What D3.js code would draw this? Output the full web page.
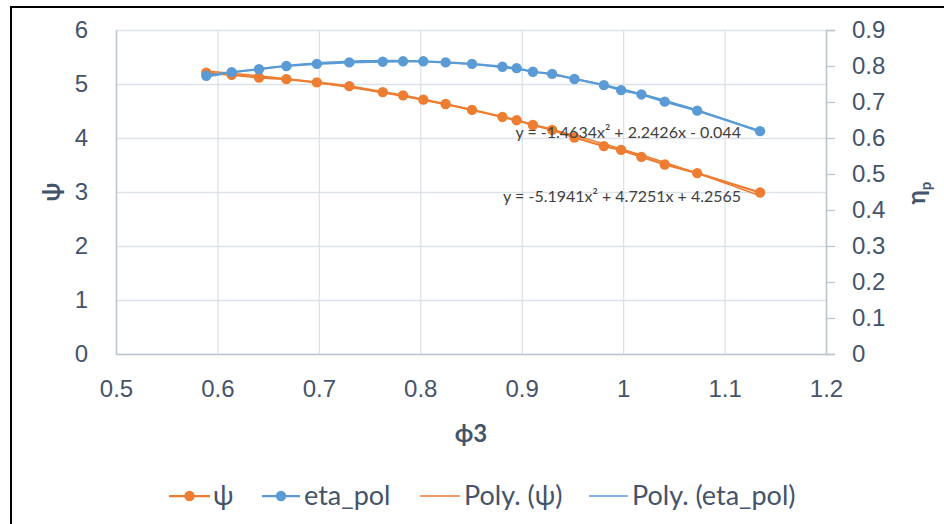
<!DOCTYPE html>
<html>
<head>
<meta charset="utf-8">
<script src="https://cdn.jsdelivr.net/npm/d3@7"></script>
<style>
  body { margin: 0; background: #fff; }
  svg { display: block; font-family: Lato, "Open Sans", sans-serif; }
  .tick text { fill: #44546a; font-size: 24px; }
</style>
</head>
<body>
<svg id="chart" width="944" height="524"></svg>
<script>
// phi3 values shared by both series
const phi = [0.589, 0.614, 0.641, 0.668, 0.698, 0.730, 0.763, 0.783, 0.803, 0.825, 0.851,
  0.881, 0.895, 0.911, 0.930, 0.952, 0.981, 0.998, 1.018, 1.041, 1.073, 1.135];
const psi = [5.21, 5.17, 5.12, 5.09, 5.03, 4.96, 4.85, 4.79, 4.71, 4.63, 4.52,
  4.39, 4.33, 4.24, 4.15, 4.01, 3.85, 3.78, 3.65, 3.51, 3.35, 2.99];
const etaPol = [0.773, 0.783, 0.791, 0.800, 0.806, 0.810, 0.812, 0.813, 0.813, 0.810, 0.806,
  0.798, 0.794, 0.784, 0.778, 0.764, 0.747, 0.733, 0.721, 0.701, 0.676, 0.619];
// trendline coefficients [a, b, c] for y = a x^2 + b x + c
const psiFit = [-5.1941, 4.7251, 4.2565];
const etaFit = [-1.4634, 2.2426, -0.044];
const xTicks = [0.5, 0.6, 0.7, 0.8, 0.9, 1, 1.1, 1.2];
const yLeftTicks = [0, 1, 2, 3, 4, 5, 6];
const yRightTicks = [0, 0.1, 0.2, 0.3, 0.4, 0.5, 0.6, 0.7, 0.8, 0.9];

const orange = '#ed7d31';
const blue = '#5b9bd5';
const textColor = '#44546a';
const gridColor = '#dde2e9';
const axisColor = '#bcc6d3';

const margin = { top: 30, left: 116, right: 118, bottom: 170 };
const width = 944 - margin.left - margin.right;
const height = 524 - margin.top - margin.bottom;

const svg = d3.select('#chart');

// outer border of the chart object
svg.append('rect')
  .attr('x', 11).attr('y', 7).attr('width', 960).attr('height', 540)
  .attr('fill', 'none').attr('stroke', '#000').attr('stroke-width', 2);

const chart = svg.append('g').attr('transform', `translate(${margin.left}, ${margin.top})`);

const x = d3.scaleLinear().domain([0.5, 1.2]).range([0, width]);
const yL = d3.scaleLinear().domain([0, 6]).range([height, 0]);
const yR = d3.scaleLinear().domain([0, 0.9]).range([height, 0]);
const plain = d3.format('');

// gridlines
chart.append('g')
  .call(d3.axisLeft(yL).tickValues(yLeftTicks).tickSize(-width).tickFormat(''))
  .call(g => g.select('.domain').remove())
  .call(g => g.selectAll('line').attr('stroke', gridColor).attr('stroke-width', 1.3));
chart.append('g')
  .attr('transform', `translate(0, ${height})`)
  .call(d3.axisBottom(x).tickValues(xTicks).tickSize(-height).tickFormat(''))
  .call(g => g.select('.domain').remove())
  .call(g => g.selectAll('line').attr('stroke', gridColor).attr('stroke-width', 1.3));

// axes
chart.append('g')
  .attr('transform', `translate(0, ${height})`)
  .call(d3.axisBottom(x).tickValues(xTicks).tickSize(0).tickPadding(26).tickFormat(plain))
  .call(g => g.select('.domain').attr('stroke', axisColor).attr('stroke-width', 1.5));

chart.append('g')
  .call(d3.axisLeft(yL).tickValues(yLeftTicks).tickSize(0).tickPadding(28).tickFormat(plain))
  .call(g => g.select('.domain').attr('stroke', axisColor).attr('stroke-width', 1.5));

chart.append('g')
  .attr('transform', `translate(${width}, 0)`)
  .call(d3.axisRight(yR).tickValues(yRightTicks).tickSize(9).tickPadding(17).tickFormat(plain))
  .call(g => g.select('.domain').attr('stroke', axisColor).attr('stroke-width', 1.5))
  .call(g => g.selectAll('line').attr('stroke', axisColor).attr('stroke-width', 1.3));

chart.selectAll('.tick text').attr('fill', textColor);

// trendlines
const poly = ([a, b, c]) => v => a * v * v + b * v + c;
const fitX = d3.range(0, 101).map(i => phi[0] + (phi[phi.length - 1] - phi[0]) * i / 100);

chart.append('path')
  .datum(fitX)
  .attr('fill', 'none').attr('stroke', orange).attr('stroke-width', 1.5)
  .attr('d', d3.line().x(d => x(d)).y(d => yL(poly(psiFit)(d))));
chart.append('path')
  .datum(fitX)
  .attr('fill', 'none').attr('stroke', blue).attr('stroke-width', 1.5)
  .attr('d', d3.line().x(d => x(d)).y(d => yR(poly(etaFit)(d))));

// data series
const psiData = phi.map((p, i) => [p, psi[i]]);
const etaData = phi.map((p, i) => [p, etaPol[i]]);

const drawSeries = (data, yScale, color) => {
  chart.append('path')
    .datum(data)
    .attr('fill', 'none').attr('stroke', color).attr('stroke-width', 2.25)
    .attr('d', d3.line().x(d => x(d[0])).y(d => yScale(d[1])));
  chart.append('g').selectAll('circle')
    .data(data)
    .enter()
    .append('circle')
    .attr('cx', d => x(d[0]))
    .attr('cy', d => yScale(d[1]))
    .attr('r', 5.2)
    .attr('fill', color);
};
drawSeries(psiData, yL, orange);
drawSeries(etaData, yR, blue);

// trendline equations
chart.append('text')
  .attr('x', x(1.005)).attr('y', yR(0.6))
  .attr('text-anchor', 'middle').attr('font-size', 16).attr('fill', '#404040')
  .text('y = -1.4634x² + 2.2426x - 0.044');
chart.append('text')
  .attr('x', x(0.999)).attr('y', yL(2.81))
  .attr('text-anchor', 'middle').attr('font-size', 16).attr('fill', '#404040')
  .text('y = -5.1941x² + 4.7251x + 4.2565');

// axis titles
svg.append('text')
  .attr('transform', 'translate(60, 192) rotate(-90)')
  .attr('text-anchor', 'middle').attr('font-size', 24).attr('font-weight', 'bold')
  .attr('fill', textColor)
  .text('ψ');

const etaTitle = svg.append('text')
  .attr('transform', 'translate(925, 193) rotate(-90)')
  .attr('text-anchor', 'middle').attr('font-size', 24).attr('font-weight', 'bold')
  .attr('fill', textColor);
etaTitle.append('tspan').text('η');
etaTitle.append('tspan').attr('font-size', 15).attr('dy', 6).text('p');

svg.append('text')
  .attr('x', 471).attr('y', 442)
  .attr('text-anchor', 'middle').attr('font-size', 24).attr('font-weight', 'bold')
  .attr('fill', textColor)
  .text('ϕ3');

// legend
const legendItems = [
  { label: 'ψ', color: orange, marker: true, x0: 169, x1: 210, tx: 213 },
  { label: 'eta_pol', color: blue, marker: true, x0: 262, x1: 300, tx: 304 },
  { label: 'Poly. (ψ)', color: orange, marker: false, x0: 420, x1: 460, tx: 464 },
  { label: 'Poly. (eta_pol)', color: blue, marker: false, x0: 589, x1: 628, tx: 632 }
];
const legend = svg.append('g').attr('transform', 'translate(0, 496)');
legendItems.forEach(item => {
  const g = legend.append('g');
  g.append('line')
    .attr('x1', item.x0).attr('x2', item.x1)
    .attr('stroke', item.color).attr('stroke-width', item.marker ? 2.25 : 1.5);
  if (item.marker) {
    g.append('circle').attr('cx', (item.x0 + item.x1) / 2).attr('r', 5.2).attr('fill', item.color);
  }
  g.append('text')
    .attr('x', item.tx).attr('dy', '0.35em')
    .attr('font-size', 27).attr('fill', textColor)
    .text(item.label);
});
</script>
</body>
</html>
